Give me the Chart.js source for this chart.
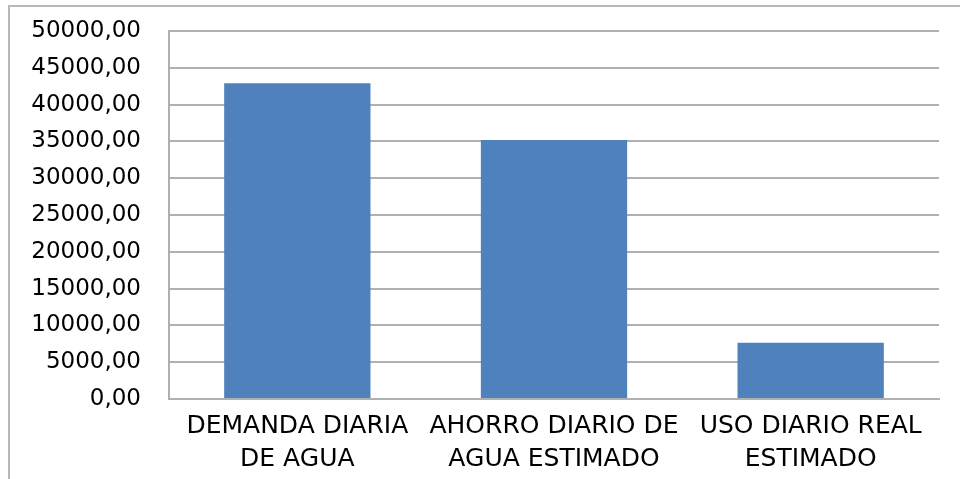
<!DOCTYPE html>
<html lang="es">
<head>
    <meta charset="UTF-8">
    <title>Demanda diaria de agua</title>
    <script src="https://cdn.jsdelivr.net/npm/chart.js"></script>
    <style>
        html, body {
            margin: 0;
            padding: 0;
            background: #fff;
        }
        #wrap {
            position: relative;
            width: 960px;
            height: 479px;
            overflow: hidden;
        }
        #frame {
            position: absolute;
            left: 8px;
            top: 5px;
            right: -10px;
            bottom: -10px;
            border-top: 2px solid #b8b8b8;
            border-left: 2px solid #b8b8b8;
        }
        canvas {
            position: absolute;
            left: 0;
            top: 0;
        }
    </style>
</head>
<body>
    <div id="wrap">
        <div id="frame"></div>
        <canvas id="chart" width="960" height="479"></canvas>
    </div>

    <script>
        const categories = [
            ['DEMANDA DIARIA', 'DE AGUA'],
            ['AHORRO DIARIO DE', 'AGUA ESTIMADO'],
            ['USO DIARIO REAL', 'ESTIMADO']
        ];
        const values = [42900, 35200, 7650];
        const yMax = 50000;
        const yStep = 5000;

        const gridColor = '#b0b0b0';
        const textFont = "'DejaVu Sans', sans-serif";

        new Chart(document.getElementById('chart'), {
            type: 'bar',
            data: {
                labels: categories,
                datasets: [{
                    data: values,
                    backgroundColor: '#4f81bd',
                    borderWidth: 0,
                    barPercentage: 0.57,
                    categoryPercentage: 1
                }]
            },
            options: {
                responsive: false,
                animation: false,
                layout: { padding: { left: 0, right: 21, top: 31, bottom: 0 } },
                plugins: {
                    legend: { display: false },
                    tooltip: { enabled: false }
                },
                scales: {
                    x: {
                        grid: { display: false, drawTicks: false },
                        border: { color: gridColor, width: 2 },
                        ticks: {
                            color: '#000',
                            padding: 11,
                            maxRotation: 0,
                            autoSkip: false,
                            font: { family: textFont, size: 25, lineHeight: 1.32 }
                        },
                        afterFit: s => {
                            s.height = 80;
                            s.paddingLeft = 0;
                            s.paddingRight = 0;
                        }
                    },
                    y: {
                        min: 0,
                        max: yMax,
                        grid: { color: gridColor, lineWidth: 2, drawTicks: false },
                        border: { color: gridColor, width: 2 },
                        ticks: {
                            stepSize: yStep,
                            color: '#000',
                            padding: 28,
                            font: { family: textFont, size: 23 },
                            callback: v => v.toFixed(2).replace('.', ',')
                        },
                        afterFit: s => {
                            s.width = 169;
                            s.paddingTop = 0;
                            s.paddingBottom = 0;
                        }
                    }
                }
            }
        });
    </script>
</body>
</html>
